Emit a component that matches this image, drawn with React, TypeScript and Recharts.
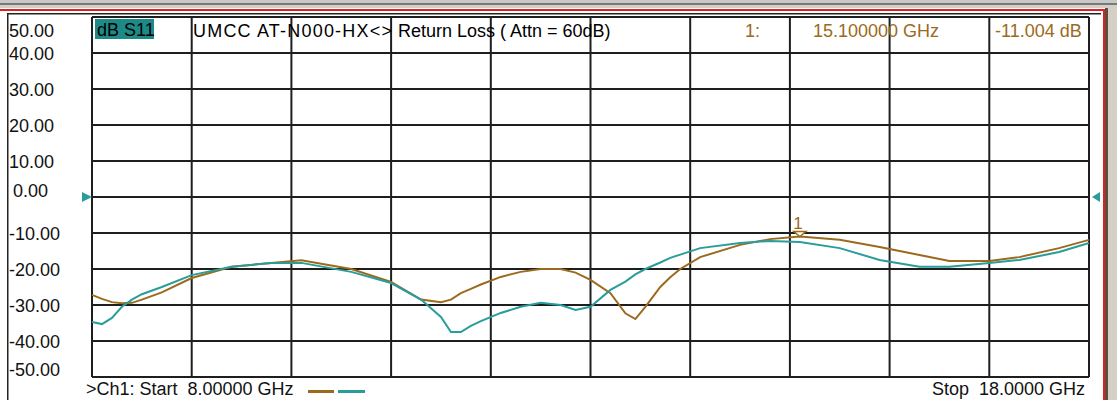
import React from "react";
import {
  LineChart,
  Line,
  XAxis,
  YAxis,
  CartesianGrid,
  ReferenceDot,
} from "recharts";

const FREQ_GHZ = [
  8.0, 8.1, 8.2, 8.3, 8.4, 8.5, 8.7, 9.0, 9.4, 9.8, 10.1, 10.6, 11.0, 11.3,
  11.5, 11.6, 11.7, 11.8, 11.9, 12.1, 12.3, 12.5, 12.7, 12.85, 13.0, 13.2,
  13.35, 13.45, 13.55, 13.7, 13.8, 13.9, 14.1, 14.5, 14.8, 15.1, 15.5, 15.9,
  16.3, 16.6, 17.0, 17.3, 17.7, 18.0,
];

const S11_BROWN = [
  -27.2, -28.3, -29.2, -29.5, -29.4, -28.5, -26.5, -22.5, -19.4, -18.3, -17.6,
  -20.0, -23.6, -28.5, -29.2, -28.5, -26.7, -25.5, -24.3, -22.2, -20.8, -20.0,
  -20.0, -21.0, -23.0, -26.7, -32.3, -33.9, -30.5, -25.0, -22.3, -20.0, -16.7,
  -13.3, -11.7, -11.0, -11.9, -13.9, -16.1, -17.8, -17.8, -16.7, -14.2, -11.9,
];

const S11_TEAL = [
  -34.7, -35.3, -33.6, -30.5, -28.5, -27.0, -25.0, -21.7, -19.4, -18.3, -18.3,
  -20.8, -23.9, -28.5, -33.3, -37.5, -37.5, -35.8, -34.5, -32.2, -30.5, -29.4,
  -30.0, -31.4, -30.5, -25.8, -23.5, -21.5, -20.0, -18.2, -16.9, -16.0, -14.2,
  -12.8, -12.2, -12.5, -14.2, -17.5, -19.4, -19.4, -18.3, -17.5, -15.3, -12.8,
];

const X_TICKS = [8, 9, 10, 11, 12, 13, 14, 15, 16, 17, 18];
const Y_TICKS = [50, 40, 30, 20, 10, 0, -10, -20, -30, -40, -50];

const MARKER_FREQ = 15.1;
const MARKER_VALUE = -11.004;

const HEADER_TITLE_A = "UMCC AT-N000-HX<>";
const HEADER_TITLE_B = "Return Loss ( Attn = 60dB)";
const TRACE_LABEL = "dB S11";
const MARKER_LABEL = "1:";
const MARKER_FREQ_LABEL = "15.100000 GHz";
const MARKER_VALUE_LABEL = "-11.004 dB";
const START_LABEL = ">Ch1: Start  8.00000 GHz";
const STOP_LABEL = "Stop  18.0000 GHz";

const BROWN = "#9c6a1c";
const TEAL = "#2a9c9a";
const HILITE = "#1e8a88";
const FONT = "'Liberation Sans', Arial, sans-serif";

const data = FREQ_GHZ.map((f, i) => ({
  f,
  brown: S11_BROWN[i],
  teal: S11_TEAL[i],
}));

const YTick = (props: any) => {
  const { y, payload } = props;
  const v = payload.value as number;
  let ty = y + 6.5;
  let tx = 9;
  if (v === 0) {
    ty = y;
    tx = 13;
  }
  ty = Math.max(37, Math.min(376, ty));
  return (
    <text
      x={tx}
      y={ty}
      fontFamily={FONT}
      fontSize={18}
      fill="#111"
      textAnchor="start"
    >
      {v.toFixed(2)}
    </text>
  );
};

const MarkerShape = (props: any) => {
  const { cx, cy } = props;
  return (
    <g>
      <polygon
        points={`${cx - 6},${cy - 5} ${cx + 6},${cy - 5} ${cx},${cy}`}
        fill="#fff"
        stroke={BROWN}
        strokeWidth={1.5}
      />
      <text
        x={cx - 2}
        y={cy - 8}
        fontFamily={FONT}
        fontSize={17}
        fill={BROWN}
        textAnchor="middle"
      >
        1
      </text>
    </g>
  );
};

const LeftRef = (props: any) => {
  const { cx, cy } = props;
  return (
    <polygon
      points={`${cx - 10},${cy - 5} ${cx},${cy} ${cx - 10},${cy + 5}`}
      fill={TEAL}
    />
  );
};

const RightRef = (props: any) => {
  const { cx, cy } = props;
  return (
    <polygon
      points={`${cx + 3},${cy} ${cx + 11},${cy - 5} ${cx + 11},${cy + 5}`}
      fill={TEAL}
    />
  );
};

export default function App() {
  return (
    <div
      style={{
        position: "absolute",
        left: 0,
        top: 0,
        width: 1117,
        height: 400,
        background: "#fff",
        overflow: "hidden",
      }}
    >
      <svg
        width={1117}
        height={400}
        style={{ position: "absolute", left: 0, top: 0 }}
      >
        <rect x={0} y={0} width={1117} height={3} fill="#c8c8c8" />
        <rect x={0} y={3} width={1117} height={2} fill="#7a7a7a" />
        <rect x={0} y={5} width={1117} height={3} fill="#d4d0c8" />
        <rect x={0} y={9} width={1105} height={2} fill="#e02020" />
        <rect x={1103} y={9} width={2} height={391} fill="#e02020" />
        <rect x={1105} y={8} width={3} height={392} fill="#5a5040" />
        <rect x={1108} y={8} width={9} height={392} fill="#d4d0c8" />
        <rect x={7} y={13} width={1094} height={1.5} fill="#222" />
        <rect x={7} y={13} width={1.5} height={387} fill="#222" />
      </svg>
      <div style={{ position: "absolute", left: 0, top: 0 }}>
        <LineChart
          width={1117}
          height={400}
          data={data}
          margin={{ top: 17, right: 28, bottom: 23, left: 0 }}
        >
          <CartesianGrid stroke="#1e1e1e" strokeWidth={2} />
          <XAxis
            dataKey="f"
            type="number"
            domain={[8, 18]}
            ticks={X_TICKS}
            hide
          />
          <YAxis
            type="number"
            domain={[-50, 50]}
            ticks={Y_TICKS}
            width={92}
            axisLine={false}
            tickLine={false}
            tick={<YTick />}
            interval={0}
          />
          <Line
            dataKey="brown"
            stroke={BROWN}
            strokeWidth={2}
            dot={false}
            isAnimationActive={false}
            type="linear"
          />
          <Line
            dataKey="teal"
            stroke={TEAL}
            strokeWidth={2}
            dot={false}
            isAnimationActive={false}
            type="linear"
          />
          <ReferenceDot
            x={MARKER_FREQ}
            y={MARKER_VALUE}
            r={0}
            ifOverflow="visible"
            shape={<MarkerShape />}
          />
          <ReferenceDot
            x={8}
            y={0}
            r={0}
            ifOverflow="visible"
            shape={<LeftRef />}
          />
          <ReferenceDot
            x={18}
            y={0}
            r={0}
            ifOverflow="visible"
            shape={<RightRef />}
          />
        </LineChart>
      </div>
      <svg
        width={1117}
        height={400}
        style={{ position: "absolute", left: 0, top: 0, pointerEvents: "none" }}
        fontFamily={FONT}
        fontSize={18}
      >
        <rect x={95} y={19} width={59} height={20} fill={HILITE} />
        <text x={97} y={36} fill="#000">
          {TRACE_LABEL}
        </text>
        <text x={193} y={37} fill="#000" letterSpacing={1.2}>
          {HEADER_TITLE_A}
        </text>
        <text x={398} y={37} fill="#000">
          {HEADER_TITLE_B}
        </text>
        <text x={745} y={37} fill={BROWN}>
          {MARKER_LABEL}
        </text>
        <text x={813} y={37} fill={BROWN}>
          {MARKER_FREQ_LABEL}
        </text>
        <text x={995} y={37} fill={BROWN}>
          {MARKER_VALUE_LABEL}
        </text>
        <text x={86} y={395} fill="#111" style={{ whiteSpace: "pre" }}>
          {START_LABEL}
        </text>
        <rect x={308} y={390} width={26} height={3} fill={BROWN} />
        <rect x={338} y={390} width={27} height={3} fill={TEAL} />
        <text
          x={1085}
          y={395}
          fill="#111"
          textAnchor="end"
          style={{ whiteSpace: "pre" }}
        >
          {STOP_LABEL}
        </text>
      </svg>
    </div>
  );
}
